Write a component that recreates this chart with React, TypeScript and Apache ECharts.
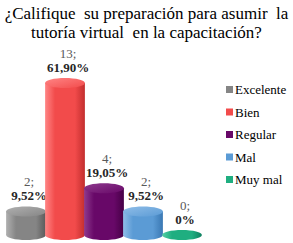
import React, { useEffect, useRef } from "react";
import * as echarts from "echarts";

const categories = ["Excelente", "Bien", "Regular", "Mal", "Muy mal"];
const counts = [2, 13, 4, 2, 0];
const percents = ["9,52%", "61,90%", "19,05%", "9,52%", "0%"];
const colors = ["#858585", "#f24b4b", "#680868", "#5b9bd5", "#1fae80"];
const lightColors = ["#b0b0b0", "#ff8585", "#8e3a8e", "#8fbde8", "#55d0a5"];
const darkColors = ["#5a5a5a", "#c22e2e", "#460046", "#3a78b3", "#0f8060"];

const FONT = "Liberation Serif";

export default function App() {
  const ref = useRef<HTMLDivElement>(null);
  useEffect(() => {
    document.body.style.margin = "0";
    const chart = echarts.init(ref.current!, undefined, { renderer: "svg" });
    const series = categories.map((name, i) => ({
      name,
      type: "custom",
      clip: false,
      itemStyle: { color: colors[i] },
      data: [[i, counts[i]]],
      encode: { x: 0, y: 1 },
      renderItem: (params: any, api: any) => {
        const idx = api.value(0);
        const val = api.value(1);
        const top = api.coord([idx, val]);
        const bot = api.coord([idx, 0]);
        const w = api.size([1, 0])[0] * 1.02;
        const rx = w / 2;
        const ry = 5;
        const cx = top[0];
        const grad = new echarts.graphic.LinearGradient(0, 0, 1, 0, [
          { offset: 0, color: lightColors[i] },
          { offset: 0.25, color: colors[i] },
          { offset: 0.75, color: colors[i] },
          { offset: 1, color: darkColors[i] },
        ]);
        const capGrad = new echarts.graphic.LinearGradient(0, 0, 1, 1, [
          { offset: 0, color: lightColors[i] },
          { offset: 1, color: colors[i] },
        ]);
        const children: any[] = [];
        if (bot[1] - top[1] > 0.5) {
          children.push({
            type: "rect",
            shape: { x: cx - rx, y: top[1], width: w, height: bot[1] - top[1] },
            style: { fill: grad },
          });
          children.push({
            type: "ellipse",
            shape: { cx, cy: bot[1], rx, ry },
            style: { fill: grad },
          });
          children.push({
            type: "ellipse",
            shape: { cx, cy: top[1], rx, ry },
            style: { fill: capGrad },
          });
        } else {
          children.push({
            type: "ellipse",
            shape: { cx, cy: bot[1], rx, ry },
            style: { fill: grad },
          });
        }
        children.push({
          type: "text",
          style: {
            text: "{a|" + counts[i] + ";}\n{b|" + percents[i] + "}",
            x: cx + 3,
            y: top[1] - 9,
            align: "center",
            verticalAlign: "bottom",
            rich: {
              a: {
                fill: "#595959",
                fontSize: 13,
                lineHeight: 14,
                fontFamily: FONT,
                align: "center",
              },
              b: {
                fill: "#262626",
                fontSize: 13,
                lineHeight: 14,
                fontWeight: "bold",
                fontFamily: FONT,
                align: "center",
              },
            },
          },
        });
        return { type: "group", children };
      },
    }));
    chart.setOption({
      animation: false,
      title: {
        text: "¿Califique  su preparación para asumir  la\ntutoría virtual  en la capacitación?",
        left: "center",
        top: 4,
        padding: 0,
        textStyle: {
          fontFamily: FONT,
          fontSize: 17,
          lineHeight: 19,
          fontWeight: "normal",
          color: "#000",
        },
      },
      legend: {
        orient: "vertical",
        left: 226,
        top: 83,
        padding: 0,
        itemWidth: 7,
        itemHeight: 7,
        itemGap: 9.5,
        icon: "rect",
        textStyle: {
          fontFamily: FONT,
          fontSize: 13,
          lineHeight: 13,
          color: "#000",
          padding: [0, 0, 0, -3],
        },
        data: categories,
      },
      grid: { left: 6.5, right: 91.5, top: 83, bottom: 8 },
      xAxis: { type: "category", data: categories, show: false },
      yAxis: { type: "value", min: 0, max: 13, show: false },
      series,
    });
    return () => chart.dispose();
  }, []);
  return <div ref={ref} style={{ width: 293, height: 243 }} />;
}
